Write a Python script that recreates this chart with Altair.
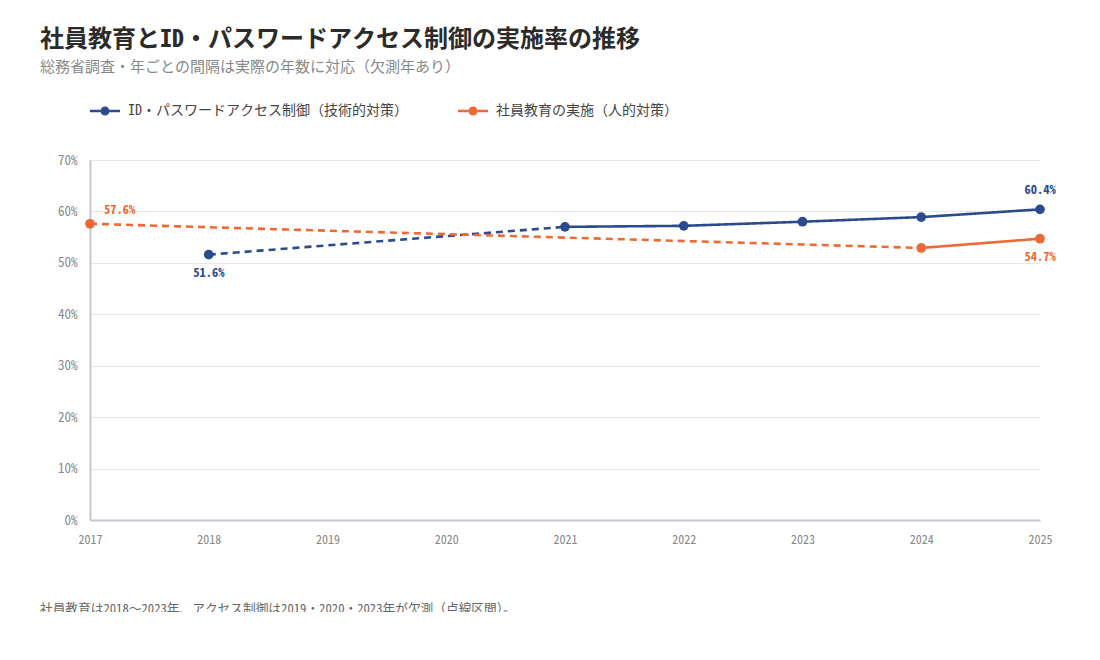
import altair as alt
import pandas as pd

FONT = "Noto Sans Mono CJK JP"

SERIES_ACCESS = "ID・パスワードアクセス制御（技術的対策）"
SERIES_EDU = "社員教育の実施（人的対策）"

series_names = [SERIES_ACCESS, SERIES_EDU]
series_colors = ["#2c4b8c", "#ec6a35"]

years_access = [2018, 2021, 2022, 2023, 2024, 2025]
rate_access = [51.6, 57.0, 57.2, 58.0, 58.9, 60.4]

years_edu = [2017, 2024, 2025]
rate_edu = [57.6, 52.9, 54.7]

x_ticks = [2017, 2018, 2019, 2020, 2021, 2022, 2023, 2024, 2025]
y_ticks = [0, 10, 20, 30, 40, 50, 60, 70]

title_text = "社員教育とID・パスワードアクセス制御の実施率の推移"
subtitle_text = "総務省調査・年ごとの間隔は実際の年数に対応（欠測年あり）"
footer_text = "社員教育は2018～2023年、アクセス制御は2019・2020・2023年が欠測（点線区間）。"

# ---- tables built from the arrays ----
series_data = {SERIES_ACCESS: (years_access, rate_access), SERIES_EDU: (years_edu, rate_edu)}

pts_rows = []
seg_rows = []
for name, (ys, rs) in series_data.items():
    for y_, r_ in zip(ys, rs):
        pts_rows.append({"series": name, "year": y_, "rate": r_})
    for i in range(len(ys) - 1):
        style = "dashed" if ys[i + 1] - ys[i] > 1 else "solid"
        sid = f"{name}-{i}"
        seg_rows.append({"series": name, "year": ys[i], "rate": rs[i], "seg": sid, "style": style})
        seg_rows.append({"series": name, "year": ys[i + 1], "rate": rs[i + 1], "seg": sid, "style": style})

pts = pd.DataFrame(pts_rows)
segs = pd.DataFrame(seg_rows)

x_enc = alt.X("year:Q", scale=alt.Scale(domain=[x_ticks[0], x_ticks[-1]], nice=False, zero=False),
              axis=alt.Axis(values=x_ticks, format="d", grid=False, title=None, labelPadding=14,
                            labelFlush=False, labelFontSize=12))
y_enc = alt.Y("rate:Q", scale=alt.Scale(domain=[y_ticks[0], y_ticks[-1]], nice=False),
              axis=alt.Axis(values=y_ticks, labelExpr="datum.value + '%'", grid=True, title=None,
                            labelPadding=13, labelFontSize=13))

color_scale = alt.Scale(domain=series_names, range=series_colors)

legend_path = ("M-1,-0.085L-0.3,-0.085L-0.3,0.085L-1,0.085Z M0.3,-0.085L1,-0.085L1,0.085L0.3,0.085Z "
               "M0.3,0A0.3,0.3,0,1,1,-0.3,0A0.3,0.3,0,1,1,0.3,0Z")

lines = alt.Chart(segs).mark_line(strokeWidth=2.6).encode(
    x=x_enc, y=y_enc,
    color=alt.Color("series:N", scale=color_scale),
    detail="seg:N",
    strokeDash=alt.StrokeDash("style:N", scale=alt.Scale(domain=["solid", "dashed"], range=[[1, 0], [7, 5]]),
                              legend=None),
)

points = alt.Chart(pts).mark_circle(size=95, opacity=1).encode(
    x=x_enc, y=y_enc,
    color=alt.Color("series:N", scale=color_scale,
                    legend=alt.Legend(title=None, orient="none", legendX=0, legendY=-64,
                                      direction="horizontal", padding=0, symbolType=legend_path,
                                      symbolSize=900, symbolStrokeWidth=0, symbolOpacity=1,
                                      symbolDash=[1, 0],
                                      labelFont=FONT, labelFontSize=14, labelColor="#444444",
                                      labelOffset=8, columnPadding=50, labelLimit=400)),
)


def label_layer(name, year, dx, dy, align):
    df = pts[(pts["series"] == name) & (pts["year"] == year)]
    col = series_colors[series_names.index(name)]
    return alt.Chart(df).transform_calculate(
        label="format(datum.rate, '.1f') + '%'"
    ).mark_text(font=FONT, fontSize=12.5, fontWeight="bold", dx=dx, dy=dy, align=align,
                baseline="middle", color=col).encode(
        x=x_enc, y=y_enc, text="label:N",
    )


labels = [
    label_layer(SERIES_ACCESS, years_access[0], 0, 18, "center"),
    label_layer(SERIES_ACCESS, years_access[-1], 0, -19, "center"),
    label_layer(SERIES_EDU, years_edu[0], 14, -14, "left"),
    label_layer(SERIES_EDU, years_edu[-1], 0, 18, "center"),
]

footer = alt.Chart(pd.DataFrame({"t": [footer_text]})).mark_text(
    font=FONT, fontSize=12.7, color="#666666", align="left", baseline="top"
).encode(text="t:N", x=alt.value(-50), y=alt.value(443))

chart = alt.layer(lines, points, *labels, footer).properties(
    width=950, height=360,
    padding={"left": 82, "top": 152, "right": 50, "bottom": 92},
    autosize=alt.AutoSizeParams(type="none"),
    title=alt.TitleParams(text=title_text, subtitle=subtitle_text, anchor="start", frame="group",
                          dx=-50, offset=21, font=FONT, fontSize=24, fontWeight="bold",
                          color="#2b2b2b", subtitleFont=FONT, subtitleFontSize=15,
                          subtitleColor="#888888", subtitlePadding=8),
).configure_view(strokeWidth=0).configure_axis(
    labelFont=FONT, labelColor="#888888", ticks=False,
    domainColor="#c3c7d0", domainWidth=2, gridColor="#e6e8ee", gridWidth=1,
)

chart.save("out.html", embed_options={"renderer": "svg", "actions": False})
